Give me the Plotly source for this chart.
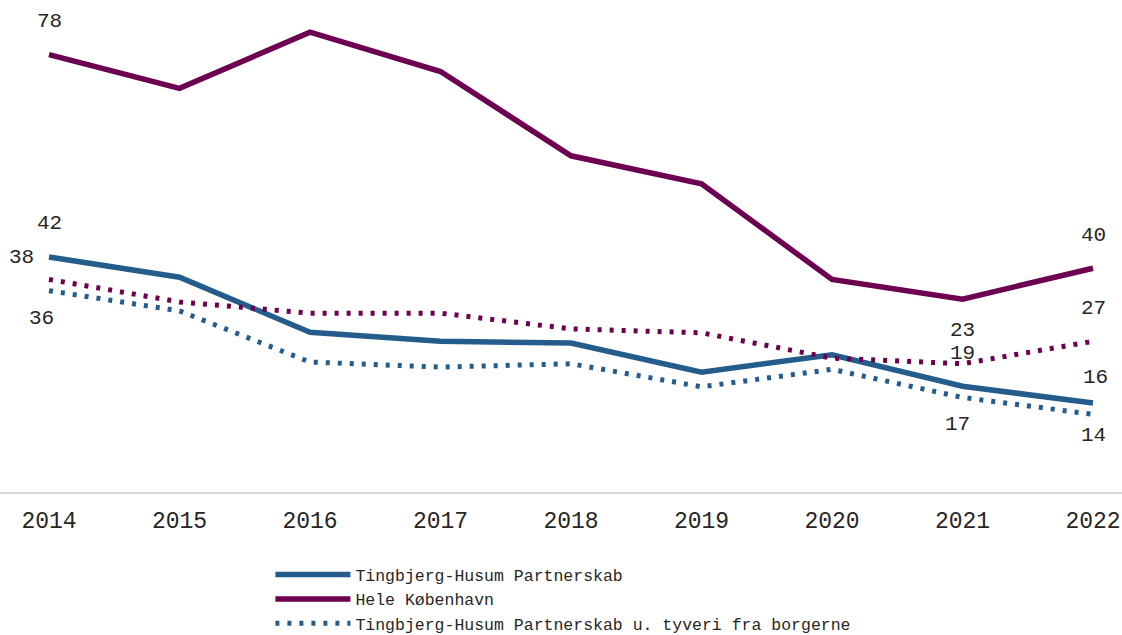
import plotly.graph_objects as go

years = [2014, 2015, 2016, 2017, 2018, 2019, 2020, 2021, 2022]

tingbjerg = [42, 38.4, 28.6, 27, 26.7, 21.5, 24.6, 19, 16]
hele_kbh = [78, 72, 82, 75, 60, 55, 38, 34.5, 40]
hele_kbh_u_tyveri = [38, 34, 32, 32, 29.2, 28.5, 24, 23, 27]
tingbjerg_u_tyveri = [36, 32.4, 23.3, 22.4, 23, 18.9, 22, 17, 14]

BLUE = "#245C8C"
PURPLE = "#6D0050"
FONT = "Courier New, FreeMono, Nimbus Mono PS, Liberation Mono, monospace"
TEXT = "#262626"

fig = go.Figure()
fig.add_trace(go.Scatter(x=years, y=tingbjerg, mode="lines", name="Tingbjerg-Husum Partnerskab",
                         line=dict(color=BLUE, width=5.5)))
fig.add_trace(go.Scatter(x=years, y=hele_kbh, mode="lines", name="Hele København",
                         line=dict(color=PURPLE, width=5.5)))
fig.add_trace(go.Scatter(x=years, y=tingbjerg_u_tyveri, mode="lines",
                         name="Tingbjerg-Husum Partnerskab u. tyveri fra borgerne",
                         line=dict(color=BLUE, width=5, dash="4px,8px")))
fig.add_trace(go.Scatter(x=years, y=hele_kbh_u_tyveri, mode="lines", showlegend=False,
                         line=dict(color=PURPLE, width=5, dash="4px,8px")))

# value labels: (series, index, xshift, yshift)
labels = [
    (hele_kbh, 0, 0, 33),
    (tingbjerg, 0, 0, 33),
    (hele_kbh_u_tyveri, 0, -28, 22),
    (tingbjerg_u_tyveri, 0, -8, -28),
    (hele_kbh_u_tyveri, 7, 0, 33),
    (tingbjerg, 7, 0, 33),
    (tingbjerg_u_tyveri, 7, -5, -27),
    (hele_kbh, 8, 0, 33),
    (hele_kbh_u_tyveri, 8, 0, 33),
    (tingbjerg, 8, 2, 26),
    (tingbjerg_u_tyveri, 8, 0, -21),
]
for series, i, dx, dy in labels:
    fig.add_annotation(x=years[i], y=series[i], text=str(round(series[i])),
                       showarrow=False, xshift=dx, yshift=dy,
                       font=dict(family=FONT, size=21, color=TEXT))

fig.update_layout(
    width=1122, height=635,
    margin=dict(l=0, r=0, t=10, b=142, autoexpand=False),
    paper_bgcolor="white", plot_bgcolor="white",
    font=dict(family=FONT, color=TEXT),
    showlegend=True,
    legend=dict(orientation="v", x=0.241, xanchor="left", y=-0.133, yanchor="top",
                font=dict(family=FONT, size=16.5, color=TEXT),
                itemwidth=75, tracegroupgap=0, bgcolor="rgba(0,0,0,0)"),
)
fig.update_xaxes(range=[2014 - 49 / 130.5, 2022 + 29 / 130.5], tickvals=years,
                 ticktext=[str(y) for y in years], showgrid=False, zeroline=False,
                 showline=False, ticks="", ticklabelstandoff=11,
                 tickfont=dict(family=FONT, size=23, color=TEXT))
fig.update_yaxes(range=[0, 483 / 5.62], showgrid=False, zeroline=True,
                 zerolinecolor="#D9D9D9", zerolinewidth=2, showticklabels=False)

fig.write_html("out.html")
